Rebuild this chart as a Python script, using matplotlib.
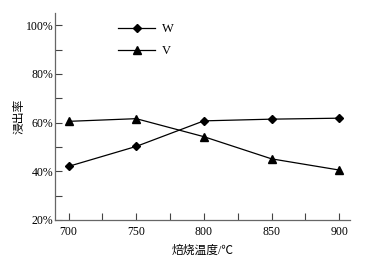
import matplotlib
matplotlib.use("Agg")
from matplotlib import pyplot as plt
from matplotlib.ticker import MultipleLocator, FuncFormatter

# roasting temperature vs leaching rate
temp = [700, 750, 800, 850, 900]
w_rate = [42.0, 50.2, 60.7, 61.4, 61.8]
v_rate = [60.5, 61.6, 54.2, 45.1, 40.5]

plt.rcParams['font.family'] = ['Liberation Serif', 'Noto Sans CJK SC']
plt.rcParams['font.size'] = 8.5

fig = plt.figure(figsize=(3.74, 2.6), dpi=100)
ax = fig.add_axes([0.147, 0.154, 0.789, 0.796])

ax.plot(temp, w_rate, color='black', lw=0.9, marker='D', ms=4.5, label='W')
ax.plot(temp, v_rate, color='black', lw=0.9, marker='^', ms=5.5, label='V')

ax.set_xlim(690, 908)
ax.set_ylim(20, 105)
ax.xaxis.set_major_locator(MultipleLocator(50))
ax.xaxis.set_minor_locator(MultipleLocator(25))
ax.yaxis.set_major_locator(MultipleLocator(20))
ax.yaxis.set_minor_locator(MultipleLocator(10))
ax.yaxis.set_major_formatter(FuncFormatter(lambda v, p: '%d%%' % v))

ax.spines['top'].set_visible(False)
ax.spines['right'].set_visible(False)
for s in ['left', 'bottom']:
    ax.spines[s].set_color('#666666')
    ax.spines[s].set_linewidth(0.9)
ax.tick_params(which='both', direction='in', color='#444444', width=0.8)
ax.tick_params(which='major', length=5)
ax.tick_params(which='minor', length=5)
ax.tick_params(axis='x', pad=4)
ax.tick_params(axis='y', pad=1)

ax.set_xlabel('焙烧温度/℃', labelpad=5)
ax.set_ylabel('浸出率', labelpad=0)

ax.legend(loc='upper left', bbox_to_anchor=(0.175, 1.005), frameon=False,
          fontsize=9, handlelength=3.0, handletextpad=0.5, labelspacing=0.8)

fig.savefig('out.png', dpi=100)
